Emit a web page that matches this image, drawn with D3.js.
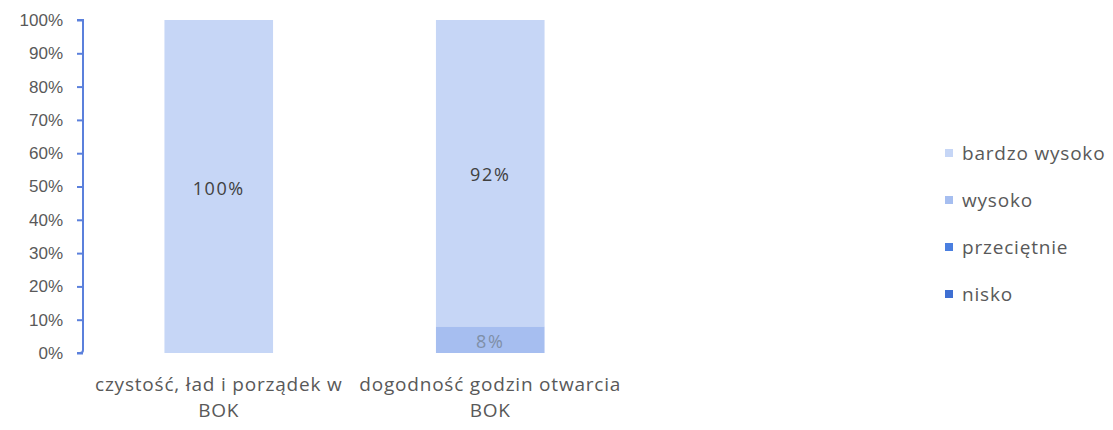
<!DOCTYPE html>
<html>
<head>
<meta charset="utf-8">
<script src="https://cdn.jsdelivr.net/npm/d3@7"></script>
<style>
  body { margin: 0; background: #fff; }
  svg { font-family: "Open Sans", "Noto Sans", sans-serif; }
</style>
</head>
<body>
<div id="chart"></div>
<script>
// dane z wykresu
const kategorie = [
  ['czystość, ład i porządek w', 'BOK'],
  ['dogodność godzin otwarcia', 'BOK']
];
const serie = ['nisko', 'przeciętnie', 'wysoko', 'bardzo wysoko'];
const nisko = [0, 0];
const przecietnie = [0, 0];
const wysoko = [0, 8];
const bardzoWysoko = [100, 92];
const ticki = [0, 10, 20, 30, 40, 50, 60, 70, 80, 90, 100];

const kolory = {
  'nisko': '#3f6fd2',
  'przeciętnie': '#4a7fe0',
  'wysoko': '#a6bef0',
  'bardzo wysoko': '#c6d6f6'
};

const width = 1113, height = 430;
const margin = { top: 20, left: 83, bottom: 77 };
const plotW = 543;

const svg = d3.select('#chart').append('svg')
  .attr('width', width)
  .attr('height', height);

const wiersze = kategorie.map((k, i) => ({
  id: i,
  'nisko': nisko[i],
  'przeciętnie': przecietnie[i],
  'wysoko': wysoko[i],
  'bardzo wysoko': bardzoWysoko[i]
}));

const stos = d3.stack().keys(serie)(wiersze);

const x = d3.scaleBand()
  .domain(wiersze.map(d => d.id))
  .range([margin.left, margin.left + plotW])
  .paddingInner(0.6)
  .paddingOuter(0.3);

const y = d3.scaleLinear()
  .domain([0, 100])
  .range([height - margin.bottom, margin.top]);

// słupki
const g = svg.append('g');
stos.forEach(s => {
  g.append('g')
    .selectAll('rect')
    .data(s)
    .join('rect')
    .attr('x', (d, i) => x(i))
    .attr('width', x.bandwidth())
    .attr('y', d => y(d[1]))
    .attr('height', d => y(d[0]) - y(d[1]))
    .attr('fill', kolory[s.key]);

  g.append('g')
    .selectAll('text')
    .data(s.filter(d => d[1] - d[0] > 0))
    .join('text')
    .attr('x', d => x(d.data.id) + x.bandwidth() / 2)
    .attr('y', d => y((d[0] + d[1]) / 2))
    .attr('dy', '0.45em')
    .attr('text-anchor', 'middle')
    .style('font-size', '18px')
    .style('letter-spacing', '1.6px')
    .style('fill', s.key === 'wysoko' ? '#7f8fa8' : '#404040')
    .text(d => (d[1] - d[0]) + '%');
});

// oś Y
const osY = svg.append('g')
  .attr('transform', `translate(${margin.left},0)`)
  .call(d3.axisLeft(y).tickValues(ticki).tickSize(6).tickPadding(14)
    .tickFormat(d => d + '%'));
osY.select('.domain').attr('stroke', '#5b80dc').attr('stroke-width', 2)
  .attr('d', `M-6,${y(100)}H0V${y(0) - 3}Q0,${y(0)} -3,${y(0)}H-6`);
osY.selectAll('.tick line').attr('stroke', '#5b80dc').attr('stroke-width', 2);
osY.selectAll('.tick text').style('font-size', '17px').style('fill', '#595959');

// etykiety kategorii
const etykiety = svg.append('g');
kategorie.forEach((k, i) => {
  const t = etykiety.append('text')
    .attr('x', x(i) + x.bandwidth() / 2)
    .attr('y', 391)
    .attr('text-anchor', 'middle')
    .style('font-size', '19px')
    .style('letter-spacing', '0.8px')
    .style('fill', '#595959');
  k.forEach((linia, j) => {
    t.append('tspan')
      .attr('x', x(i) + x.bandwidth() / 2)
      .attr('dy', j === 0 ? 0 : 26)
      .text(linia);
  });
});

// legenda
const legenda = svg.append('g').attr('transform', 'translate(945,153)');
serie.slice().reverse().forEach((s, i) => {
  const it = legenda.append('g').attr('transform', `translate(0,${i * 47})`);
  it.append('rect').attr('x', 0).attr('y', -4).attr('width', 8).attr('height', 8)
    .attr('fill', kolory[s]);
  it.append('text').attr('x', 17).attr('dy', '0.35em')
    .style('font-size', '19px').style('letter-spacing', '0.8px')
    .style('fill', '#595959').text(s);
});
</script>
</body>
</html>
